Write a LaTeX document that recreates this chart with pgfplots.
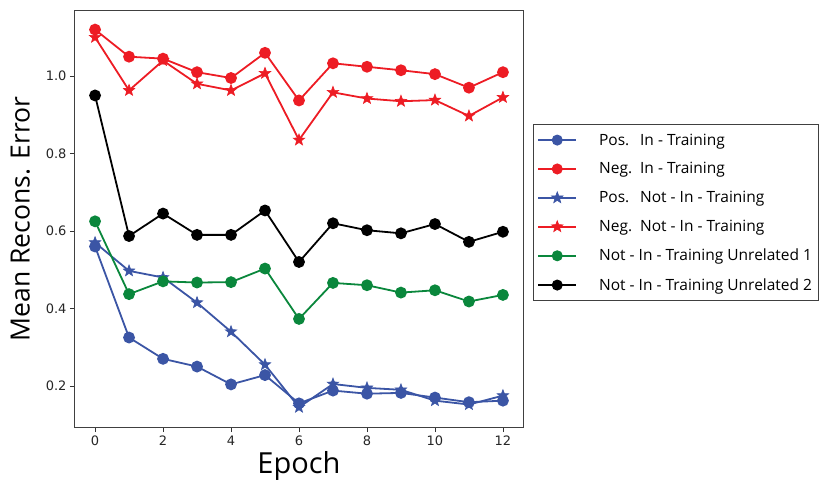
\documentclass[border=0pt]{standalone}
\usepackage{pgfplots}
\pgfplotsset{compat=1.18}
\usepackage{fontspec}
\setmainfont{Open Sans}
\newfontfamily\tickfont{DejaVu Sans}
\definecolor{cblue}{RGB}{59,85,165}
\definecolor{cred}{RGB}{237,28,36}
\definecolor{cgreen}{RGB}{10,135,60}
\newcommand{\lab}[1]{\makebox[41pt][l]{#1}}
\pgfdeclareplotmark{fstar}{%
  \pgfpathmoveto{\pgfqpointpolar{90}{\pgfplotmarksize}}%
  \pgfpathlineto{\pgfqpointpolar{126}{0.42\pgfplotmarksize}}%
  \pgfpathlineto{\pgfqpointpolar{162}{\pgfplotmarksize}}%
  \pgfpathlineto{\pgfqpointpolar{198}{0.42\pgfplotmarksize}}%
  \pgfpathlineto{\pgfqpointpolar{234}{\pgfplotmarksize}}%
  \pgfpathlineto{\pgfqpointpolar{270}{0.42\pgfplotmarksize}}%
  \pgfpathlineto{\pgfqpointpolar{306}{\pgfplotmarksize}}%
  \pgfpathlineto{\pgfqpointpolar{342}{0.42\pgfplotmarksize}}%
  \pgfpathlineto{\pgfqpointpolar{18}{\pgfplotmarksize}}%
  \pgfpathlineto{\pgfqpointpolar{54}{0.42\pgfplotmarksize}}%
  \pgfpathclose
  \pgfusepathqfillstroke}
\begin{document}
\begin{tikzpicture}[x=1pt,y=1pt]
\begin{axis}[
  at={(0,0)}, anchor=south west,
  scale only axis, width=448pt, height=416pt,
  xmin=-0.59, xmax=12.59, ymin=0.094, ymax=1.168,
  xtick={0,2,...,12}, ytick={0.2,0.4,0.6,0.8,1.0},
  yticklabel style={/pgf/number format/fixed,/pgf/number format/fixed zerofill,/pgf/number format/precision=1},
  /pgf/number format/assume math mode=true,
  ticklabel style={font=\tickfont\fontsize{13}{13}\selectfont, text=black!85},
  tick align=outside, tick style={black!80, line width=0.8pt}, major tick length=5pt,
  xtick pos=bottom, ytick pos=left,
  axis line style={black!75, line width=1pt},
  xlabel={Epoch}, ylabel={Mean Recons. Error},
  xlabel style={font=\fontsize{29}{29}\selectfont, yshift=1pt},
  ylabel style={font=\fontsize{26.5}{26.5}\selectfont, yshift=9pt},
  every axis plot/.append style={line width=1.8pt},
  legend style={at={(1.022,0.728)}, anchor=north west, draw=black!75, line width=1pt,
    font=\fontsize{15.5}{15.5}\selectfont, row sep=12pt, inner xsep=4pt, inner ysep=7pt,
    /tikz/every odd column/.append style={column sep=20pt}},
  legend cell align=left,
  legend image code/.code={\draw[#1, line width=1.8pt] (0pt,0pt) -- (38pt,0pt); \draw[#1, line width=1pt, only marks] plot coordinates {(19pt,0pt)};},
]
\addplot[cblue, mark=*, mark size=5pt] coordinates {(0,0.56)(1,0.325)(2,0.27)(3,0.25)(4,0.204)(5,0.228)(6,0.155)(7,0.188)(8,0.18)(9,0.182)(10,0.17)(11,0.158)(12,0.162)};
\addlegendentry{\lab{Pos.}In - Training}
\addplot[cred, mark=*, mark size=5pt] coordinates {(0,1.12)(1,1.05)(2,1.045)(3,1.01)(4,0.995)(5,1.06)(6,0.937)(7,1.033)(8,1.024)(9,1.015)(10,1.005)(11,0.97)(12,1.01)};
\addlegendentry{\lab{Neg.}In - Training}
\addplot[cblue, mark=fstar, mark size=6pt, mark options={line width=0.6pt}] coordinates {(0,0.57)(1,0.497)(2,0.48)(3,0.415)(4,0.34)(5,0.255)(6,0.145)(7,0.205)(8,0.195)(9,0.19)(10,0.162)(11,0.152)(12,0.175)};
\addlegendentry{\lab{Pos.}Not - In - Training}
\addplot[cred, mark=fstar, mark size=6pt, mark options={line width=0.6pt}] coordinates {(0,1.1)(1,0.963)(2,1.04)(3,0.98)(4,0.963)(5,1.007)(6,0.835)(7,0.958)(8,0.942)(9,0.935)(10,0.938)(11,0.897)(12,0.945)};
\addlegendentry{\lab{Neg.}Not - In - Training}
\addplot[cgreen, mark=*, mark size=5pt] coordinates {(0,0.625)(1,0.437)(2,0.47)(3,0.467)(4,0.468)(5,0.503)(6,0.373)(7,0.466)(8,0.46)(9,0.441)(10,0.447)(11,0.418)(12,0.435)};
\addlegendentry{Not - In - Training Unrelated 1}
\addplot[black, mark=*, mark size=5pt] coordinates {(0,0.95)(1,0.587)(2,0.645)(3,0.59)(4,0.59)(5,0.653)(6,0.52)(7,0.62)(8,0.602)(9,0.594)(10,0.618)(11,0.572)(12,0.598)};
\addlegendentry{Not - In - Training Unrelated 2}
\end{axis}
\pgfresetboundingbox
\path[use as bounding box] (-75pt,-58pt) rectangle (745pt,427pt);
\end{tikzpicture}
\end{document}
